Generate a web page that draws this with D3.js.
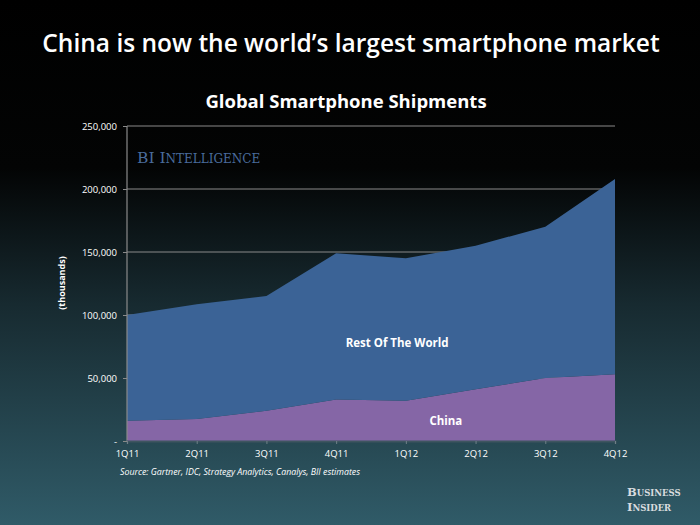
<!DOCTYPE html>
<html>
<head>
<meta charset="utf-8">
<script src="https://cdn.jsdelivr.net/npm/d3@7"></script>
<style>
  html, body { margin: 0; padding: 0; background: #000; }
  svg { display: block; }
</style>
</head>
<body>
<div id="chart"></div>
<script>
const quarters = ["1Q11", "2Q11", "3Q11", "4Q11", "1Q12", "2Q12", "3Q12", "4Q12"];
// shipments in thousands
const china = [16000, 17500, 24000, 33000, 32000, 41000, 50000, 53000];
const restOfWorld = [84000, 91000, 91000, 116000, 113000, 114000, 120000, 155000];
const yTicks = [0, 50000, 100000, 150000, 200000, 250000];

const W = 700, H = 525;
const margin = {top: 126, right: 85, bottom: 84, left: 127};
const width = W - margin.left - margin.right,
      height = H - margin.top - margin.bottom;

const svg = d3.select("#chart").append("svg")
    .attr("width", W).attr("height", H);

// background gradient
const defs = svg.append("defs");
const bg = defs.append("linearGradient").attr("id", "bg")
    .attr("x1", 0).attr("y1", 0).attr("x2", 0).attr("y2", 1);
bg.append("stop").attr("offset", "0%").attr("stop-color", "#000");
bg.append("stop").attr("offset", "32%").attr("stop-color", "#030404");
bg.append("stop").attr("offset", "58%").attr("stop-color", "#172a30");
bg.append("stop").attr("offset", "100%").attr("stop-color", "#305b68");
svg.append("rect").attr("width", W).attr("height", H).attr("fill", "url(#bg)");

svg.append("text")
    .attr("x", 351).attr("y", 52)
    .attr("text-anchor", "middle")
    .attr("font-family", "'Open Sans', sans-serif")
    .attr("font-weight", 600)
    .attr("font-size", 24.5)
    .attr("fill", "#fff")
    .text("China is now the world\u2019s largest smartphone market");

svg.append("text")
    .attr("x", 346).attr("y", 108)
    .attr("text-anchor", "middle")
    .attr("font-family", "'Open Sans', sans-serif")
    .attr("font-weight", 700)
    .attr("font-size", 18.5)
    .attr("fill", "#fff")
    .text("Global Smartphone Shipments");

const g = svg.append("g")
    .attr("transform", `translate(${margin.left},${margin.top})`);

const x = d3.scalePoint().domain(quarters).range([0, width]);
const y = d3.scaleLinear().domain([0, 250000]).range([height, 0]);

// gridlines
g.append("g")
    .selectAll("line")
    .data(yTicks.slice(1))
    .join("line")
      .attr("x1", 0).attr("x2", width)
      .attr("y1", d => y(d)).attr("y2", d => y(d))
      .attr("stroke", "#8a8a8a").attr("stroke-width", 1.2);

// stacked areas
const rows = quarters.map((q, i) => ({q, china: china[i], rest: restOfWorld[i]}));
const stack = d3.stack().keys(["china", "rest"]);
const series = stack(rows);
const colors = {china: "#8566a6", rest: "#3b6396"};

const area = d3.area()
    .x(d => x(d.data.q))
    .y0(d => y(d[0]))
    .y1(d => y(d[1]));

g.selectAll("path.layer")
  .data(series)
  .join("path")
    .attr("class", "layer")
    .attr("fill", d => colors[d.key])
    .attr("d", area);

// left axis line
g.append("line")
    .attr("x1", 0).attr("x2", 0).attr("y1", 0).attr("y2", height)
    .attr("stroke", "#8a8a8a").attr("stroke-width", 1.2);

// bottom axis
const xAxis = g.append("g")
    .attr("transform", `translate(0,${height})`)
    .call(d3.axisBottom(x).tickSize(3).tickPadding(6));
xAxis.select(".domain").attr("stroke", "#3f5560").attr("stroke-width", 2);
xAxis.selectAll(".tick line").attr("stroke", "#6f8088");
xAxis.selectAll("text")
    .attr("fill", "#fff")
    .attr("font-family", "'Open Sans', sans-serif")
    .attr("font-size", 9.5);

// left tick labels
const yAxis = g.append("g")
    .call(d3.axisLeft(y).tickValues(yTicks).tickSize(4).tickPadding(6)
        .tickFormat(d => d === 0 ? "-" : d3.format(",")(d)));
yAxis.select(".domain").remove();
yAxis.selectAll(".tick line").attr("stroke", "#8a8a8a");
yAxis.selectAll("text")
    .attr("fill", "#fff")
    .attr("font-family", "'Open Sans', sans-serif")
    .attr("font-size", 9.5);

svg.append("text")
    .attr("transform", "translate(65,283) rotate(-90)")
    .attr("text-anchor", "middle")
    .attr("font-family", "'Open Sans', sans-serif")
    .attr("font-weight", 700)
    .attr("font-size", 9)
    .attr("fill", "#fff")
    .text("(thousands)");

// series labels
g.append("text")
    .attr("x", x("4Q11") + 61).attr("y", y(75000))
    .attr("text-anchor", "middle")
    .attr("font-family", "'Open Sans', sans-serif")
    .attr("font-weight", 700).attr("font-size", 11.5)
    .attr("fill", "#fff")
    .text("Rest Of The World");

g.append("text")
    .attr("x", x("1Q12") + 40).attr("y", y(12500))
    .attr("text-anchor", "middle")
    .attr("font-family", "'Open Sans', sans-serif")
    .attr("font-weight", 700).attr("font-size", 11.5)
    .attr("fill", "#fff")
    .text("China");

// BI Intelligence mark
const bi = svg.append("text")
    .attr("x", 137).attr("y", 163)
    .attr("font-family", "'DejaVu Serif', serif")
    .attr("fill", "#4a6c9c");
bi.append("tspan").attr("font-size", 15.5).text("BI I");
bi.append("tspan").attr("font-size", 12).text("NTELLIGENCE");

svg.append("text")
    .attr("x", 120).attr("y", 475)
    .attr("font-family", "'Open Sans', sans-serif")
    .attr("font-style", "italic")
    .attr("font-size", 8.8)
    .attr("fill", "#fff")
    .text("Source: Gartner, IDC, Strategy Analytics, Canalys, BII estimates");

// Business Insider mark
const bi1 = svg.append("text").attr("x", 627).attr("y", 496)
    .attr("font-family", "'DejaVu Serif', serif").attr("font-weight", 700).attr("fill", "#d8dcdf");
bi1.append("tspan").attr("font-size", 11.5).text("B");
bi1.append("tspan").attr("font-size", 8.5).text("USINESS");
const bi2 = svg.append("text").attr("x", 627).attr("y", 511)
    .attr("font-family", "'DejaVu Serif', serif").attr("font-weight", 700).attr("fill", "#d8dcdf");
bi2.append("tspan").attr("font-size", 11.5).text("I");
bi2.append("tspan").attr("font-size", 8.5).text("NSIDER");
</script>
</body>
</html>
